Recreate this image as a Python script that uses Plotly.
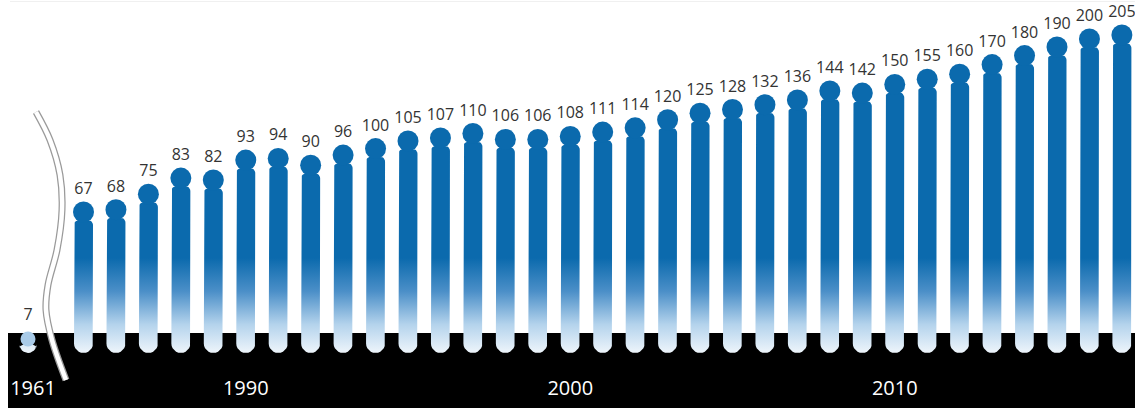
import numpy as np
import plotly.graph_objects as go

# ---------------- data ----------------
years = list(range(1985, 2018))
values = [67, 68, 75, 83, 82, 93, 94, 90, 96, 100, 105, 107, 110, 106, 106, 108,
          111, 114, 120, 125, 128, 132, 136, 144, 142, 150, 155, 160, 170, 180,
          190, 200, 205]
first_year = 1961
first_value = 7
tick_years = [1990, 2000, 2010]

# ---------------- geometry helpers ----------------
W, H = 1135, 408
X0_PX, DX_PX = 83.5, 32.45          # pixel of first bar centre, spacing
LOG_TOP, PX_PER_DEC = 2.4077, 364.5  # log axis calibration
BAND_TOP, BAR_BOT = 333, 353        # black band top, bar bottom (px)
BREAK_X_PX = 28                     # broken-axis position of the 1961 glyph
LABEL_GAP = 22                      # label centre above head centre (px)


def px2x(p):
    return years[0] + (p - X0_PX) / DX_PX


def x2px(x):
    return X0_PX + (x - years[0]) * DX_PX


def v2py(v):
    return (LOG_TOP - np.log10(v)) * PX_PER_DEC


def py2v(p):
    return 10 ** (LOG_TOP - p / PX_PER_DEC)


x_range = [px2x(0), px2x(W)]
y_range = [LOG_TOP - H / PX_PER_DEC, LOG_TOP]


def body_path(cx, top, bot, hw, rs):
    pts = [(cx - hw, bot - hw), (cx - hw, top + rs)]
    for a in np.linspace(np.pi, 1.5 * np.pi, 7):
        pts.append((cx - hw + rs + rs * np.cos(a), top + rs + rs * np.sin(a)))
    for a in np.linspace(1.5 * np.pi, 2 * np.pi, 7):
        pts.append((cx + hw - rs + rs * np.cos(a), top + rs + rs * np.sin(a)))
    pts.append((cx + hw, bot - hw))
    for a in np.linspace(0, np.pi, 13):
        pts.append((cx + hw * np.cos(a), bot - hw + hw * np.sin(a)))
    xs = [px2x(p[0]) for p in pts]
    ys = [py2v(p[1]) for p in pts]
    return xs, ys


DARK = "#0b6aad"
HEAD_D = 21
BODY_HW = 9.5

bx, by = [], []
for yr, v in zip(years, values):
    cx = x2px(yr)
    top = v2py(v) + 8
    xs, ys = body_path(cx, top, BAR_BOT, BODY_HW, 5)
    bx += xs + [None]
    by += ys + [None]

# 1961 glyph (broken axis)
g_cx = BREAK_X_PX
xs, ys = body_path(g_cx, 345, BAR_BOT, 8.5, 3)
bx += xs + [None]
by += ys + [None]

fig = go.Figure()

# break symbol
brk_px = [(36, 112), (50, 140), (60, 175), (62, 210), (57, 250), (48, 285),
          (46, 310), (52, 340), (66, 380)]
brk_x = [px2x(p[0]) for p in brk_px]
brk_y = [py2v(p[1]) for p in brk_px]
fig.add_trace(go.Scatter(x=brk_x, y=brk_y, mode="lines",
                         line=dict(color="#9a9a9a", width=7, shape="spline"),
                         hoverinfo="skip", showlegend=False))
fig.add_trace(go.Scatter(x=brk_x, y=brk_y, mode="lines",
                         line=dict(color="white", width=4.5, shape="spline"),
                         hoverinfo="skip", showlegend=False))

# bodies with vertical gradient
fig.add_trace(go.Scatter(
    x=bx, y=by, mode="lines", fill="toself", line=dict(width=0),
    fillgradient=dict(type="vertical",
                      colorscale=[[0, "#eef5fb"], [0.3, "#b4d3ec"],
                                  [0.65, "#4b8fc8"], [1, DARK]],
                      start=py2v(BAR_BOT), stop=py2v(258)),
    hoverinfo="skip", showlegend=False))

# heads
fig.add_trace(go.Scatter(
    x=years, y=values, mode="markers",
    marker=dict(size=HEAD_D, color=DARK, line=dict(width=0)),
    hoverinfo="skip", showlegend=False))

# value labels
fig.add_trace(go.Scatter(
    x=years, y=[py2v(v2py(v) - LABEL_GAP) for v in values], mode="text",
    text=[str(v) for v in values], textposition="middle center",
    textfont=dict(family="Open Sans", size=16, color="#333333"),
    hoverinfo="skip", showlegend=False))

# 1961 glyph head + label
fig.add_trace(go.Scatter(
    x=[px2x(g_cx)], y=[py2v(339)], mode="markers",
    marker=dict(size=15, color="#a9cbe8", line=dict(width=0)),
    hoverinfo="skip", showlegend=False))
fig.add_trace(go.Scatter(
    x=[px2x(g_cx)], y=[py2v(316)], mode="text", text=[str(first_value)],
    textposition="middle center",
    textfont=dict(family="Open Sans", size=16, color="#333333"),
    hoverinfo="skip", showlegend=False))

# year labels
fig.add_trace(go.Scatter(
    x=[px2x(33)] + tick_years, y=[py2v(390)] * (1 + len(tick_years)),
    mode="text", text=[str(first_year)] + [str(t) for t in tick_years],
    textposition="middle center",
    textfont=dict(family="Open Sans", size=20, color="white"),
    hoverinfo="skip", showlegend=False))

fig.update_layout(
    width=W, height=H, margin=dict(l=0, r=0, t=0, b=0),
    paper_bgcolor="white", plot_bgcolor="white",
    xaxis=dict(range=x_range, visible=False, fixedrange=True),
    yaxis=dict(type="log", range=y_range, visible=False, fixedrange=True),
    shapes=[
        dict(type="rect", xref="paper", yref="paper",
             x0=8 / W, x1=1, y0=0, y1=(H - BAND_TOP) / H,
             fillcolor="black", line=dict(width=0), layer="below"),
        dict(type="line", xref="paper", yref="paper",
             x0=10 / W, x1=1, y0=1 - 1.5 / H, y1=1 - 1.5 / H,
             line=dict(color="#f0f0f0", width=1), layer="below"),
    ],
)

fig.write_html("out.html")
